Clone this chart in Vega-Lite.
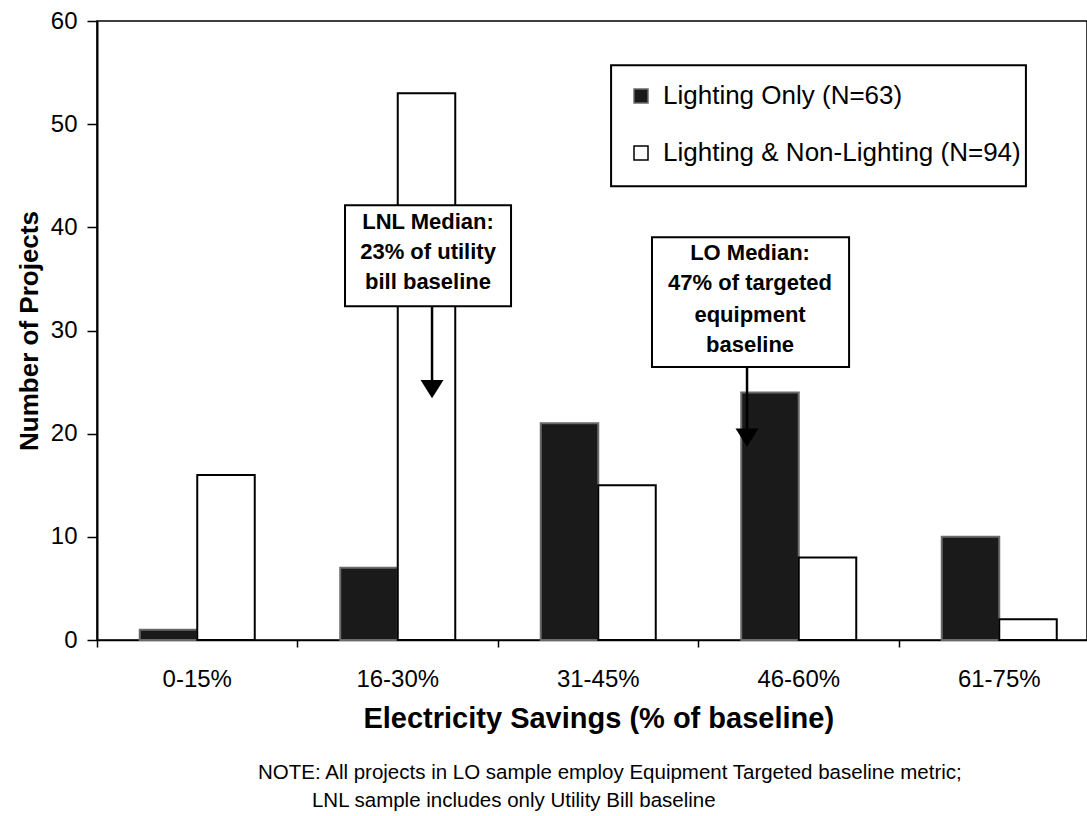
{
  "$schema": "https://vega.github.io/schema/vega-lite/v6.json",
  "width": 990,
  "height": 619,
  "autosize": "none",
  "padding": {"left": 97, "top": 21, "right": 0, "bottom": 176},
  "background": "white",
  "config": {
    "font": "Liberation Sans",
    "view": {"stroke": "black", "strokeWidth": 1.5}
  },
  "resolve": {"scale": {"x": "independent"}, "axis": {"x": "independent"}},
  "layer": [
    {
      "data": {"values": [
        {"cat": "0-15%", "series": "Lighting Only (N=63)", "n": 1},
        {"cat": "16-30%", "series": "Lighting Only (N=63)", "n": 7},
        {"cat": "31-45%", "series": "Lighting Only (N=63)", "n": 21},
        {"cat": "46-60%", "series": "Lighting Only (N=63)", "n": 24},
        {"cat": "61-75%", "series": "Lighting Only (N=63)", "n": 10},
        {"cat": "0-15%", "series": "Lighting & Non-Lighting (N=94)", "n": 16},
        {"cat": "16-30%", "series": "Lighting & Non-Lighting (N=94)", "n": 53},
        {"cat": "31-45%", "series": "Lighting & Non-Lighting (N=94)", "n": 15},
        {"cat": "46-60%", "series": "Lighting & Non-Lighting (N=94)", "n": 8},
        {"cat": "61-75%", "series": "Lighting & Non-Lighting (N=94)", "n": 2}
      ]},
      "mark": {"type": "bar", "strokeWidth": 2},
      "encoding": {
        "x": {
          "field": "cat", "type": "nominal",
          "scale": {"domain": ["0-15%", "16-30%", "31-45%", "46-60%", "61-75%"], "range": [0, 1002.5], "paddingInner": 0, "paddingOuter": 0},
          "axis": {
            "bandPosition": 0, "tickSize": 7, "tickWidth": 1.5, "tickColor": "black",
            "domainColor": "black", "domainWidth": 1.5,
            "labelFontSize": 24, "labelPadding": 20, "labelColor": "black", "labelAngle": 0,
            "title": "Electricity Savings (% of baseline)", "titleFontSize": 29, "titleFontWeight": "bold",
            "titleColor": "black", "titlePadding": 13, "grid": false
          }
        },
        "xOffset": {
          "field": "series", "type": "nominal",
          "scale": {"domain": ["Lighting Only (N=63)", "Lighting & Non-Lighting (N=94)"], "paddingInner": 0, "paddingOuter": 0.7435}
        },
        "y": {
          "field": "n", "type": "quantitative",
          "scale": {"domain": [0, 60], "nice": false},
          "axis": {
            "values": [0, 10, 20, 30, 40, 50, 60], "grid": false,
            "tickSize": 10, "tickWidth": 1.5, "tickColor": "black",
            "domainColor": "black", "domainWidth": 2,
            "labelFontSize": 24, "labelPadding": 10, "labelColor": "black",
            "title": "Number of Projects", "titleFontSize": 26, "titleFontWeight": "bold",
            "titleColor": "black", "titlePadding": 8
          }
        },
        "fill": {
          "field": "series", "type": "nominal",
          "scale": {"domain": ["Lighting Only (N=63)", "Lighting & Non-Lighting (N=94)"], "range": ["#1a1a1a", "#ffffff"]},
          "legend": {
            "orient": "none", "legendX": 531, "legendY": 62, "title": null,
            "labelFontSize": 26, "labelColor": "black", "labelLimit": 0,
            "symbolType": "square", "symbolSize": 196, "symbolStrokeWidth": 1.5,
            "labelOffset": 9, "rowPadding": 31, "padding": 0
          }
        },
        "stroke": {
          "field": "series", "type": "nominal",
          "scale": {"domain": ["Lighting Only (N=63)", "Lighting & Non-Lighting (N=94)"], "range": ["#6a6a6a", "#000000"]},
          "legend": {
            "orient": "none", "legendX": 531, "legendY": 62, "title": null,
            "labelFontSize": 26, "labelColor": "black", "labelLimit": 0,
            "symbolType": "square", "symbolSize": 196, "symbolStrokeWidth": 1.5,
            "labelOffset": 9, "rowPadding": 31, "padding": 0
          }
        }
      }
    },
    {
      "layer": [
        {
          "data": {"values": [
            {"box": "legend", "x": 2.564, "x2": 4.633, "y": 55.72, "y2": 43.99},
            {"box": "LNL", "x": 1.237, "x2": 2.065, "y": 42.15, "y2": 32.36},
            {"box": "LO", "x": 2.768, "x2": 3.751, "y": 39.05, "y2": 26.45}
          ]},
          "mark": {"type": "rect", "fill": "white", "stroke": "black", "strokeWidth": 2},
          "encoding": {
            "x": {"field": "x", "type": "quantitative", "scale": {"domain": [0, 5], "range": [0, 1002.5], "nice": false, "zero": false}, "axis": null},
            "x2": {"field": "x2"},
            "y": {"field": "y", "type": "quantitative", "scale": {"domain": [0, 60], "nice": false}, "title": "Number of Projects"},
            "y2": {"field": "y2"}
          }
        },
        {
          "data": {"values": [
            {"arrow": "LNL", "x": 1.671, "y": 32.36, "y2": 25.0},
            {"arrow": "LO", "x": 3.242, "y": 26.45, "y2": 20.4}
          ]},
          "mark": {"type": "rule", "color": "black", "strokeWidth": 2.5},
          "encoding": {
            "x": {"field": "x", "type": "quantitative", "scale": {"domain": [0, 5], "range": [0, 1002.5], "nice": false, "zero": false}, "axis": null},
            "y": {"field": "y", "type": "quantitative", "scale": {"domain": [0, 60], "nice": false}, "title": "Number of Projects"},
            "y2": {"field": "y2"}
          }
        },
        {
          "data": {"values": [
            {"arrow": "LNL", "x": 1.671, "y": 24.32},
            {"arrow": "LO", "x": 3.242, "y": 19.62}
          ]},
          "mark": {"type": "point", "shape": "M-1,-0.8L1,-0.8L0,0.8Z", "filled": true, "fill": "black", "opacity": 1, "size": 529, "strokeWidth": 0},
          "encoding": {
            "x": {"field": "x", "type": "quantitative", "scale": {"domain": [0, 5], "range": [0, 1002.5], "nice": false, "zero": false}, "axis": null},
            "y": {"field": "y", "type": "quantitative", "scale": {"domain": [0, 60], "nice": false}, "title": "Number of Projects"}
          }
        },
        {
          "data": {"values": [
            {"t": "LNL Median:", "x": 1.651, "y": 40.5},
            {"t": "23% of utility", "x": 1.651, "y": 37.6},
            {"t": "bill baseline", "x": 1.651, "y": 34.69},
            {"t": "LO Median:", "x": 3.257, "y": 37.5},
            {"t": "47% of targeted", "x": 3.257, "y": 34.59},
            {"t": "equipment", "x": 3.257, "y": 31.49},
            {"t": "baseline", "x": 3.257, "y": 28.59}
          ]},
          "mark": {"type": "text", "fontSize": 22, "fontWeight": "bold", "align": "center", "baseline": "middle", "color": "black"},
          "encoding": {
            "x": {"field": "x", "type": "quantitative", "scale": {"domain": [0, 5], "range": [0, 1002.5], "nice": false, "zero": false}, "axis": null},
            "y": {"field": "y", "type": "quantitative", "scale": {"domain": [0, 60], "nice": false}, "title": "Number of Projects"},
            "text": {"field": "t"}
          }
        },
        {
          "data": {"values": [
            {"t": "NOTE: All projects in LO sample employ Equipment Targeted baseline metric;", "x": 0.803, "y": -12.89},
            {"t": "LNL sample includes only Utility Bill baseline", "x": 1.072, "y": -15.6}
          ]},
          "mark": {"type": "text", "fontSize": 20.5, "align": "left", "baseline": "middle", "color": "black"},
          "encoding": {
            "x": {"field": "x", "type": "quantitative", "scale": {"domain": [0, 5], "range": [0, 1002.5], "nice": false, "zero": false}, "axis": null},
            "y": {"field": "y", "type": "quantitative", "scale": {"domain": [0, 60], "nice": false}, "title": "Number of Projects"},
            "text": {"field": "t"}
          }
        }
      ]
    }
  ]
}
